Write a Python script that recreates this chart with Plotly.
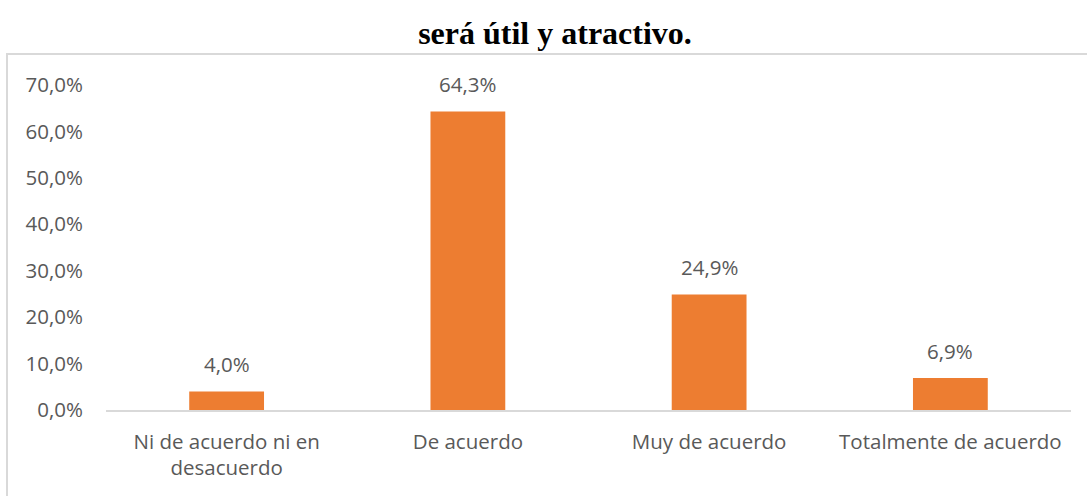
import plotly.graph_objects as go

categories = ["Ni de acuerdo ni en<br>desacuerdo", "De acuerdo", "Muy de acuerdo", "Totalmente de acuerdo"]
values = [0.040, 0.643, 0.249, 0.069]
title_text = "será útil y atractivo."

W, H = 1087, 496
L, R, T, B = 106, 16, 85, 86
pw, ph = W - L - R, H - T - B
FONT = "Open Sans"
FS = 20.5
GRAY = "#595959"

fig = go.Figure()
fig.add_trace(go.Bar(x=categories, y=values, marker=dict(color="#ED7D31", line=dict(width=0)),
                     hoverinfo="skip"))

for c, v in zip(categories, values):
    fig.add_annotation(x=c, y=v, text=f"{v*100:.1f}%".replace(".", ","), showarrow=False,
                       yanchor="bottom", yshift=11,
                       font=dict(family=FONT, size=FS, color=GRAY))

# open-ended frame: left and top edges only visible within the page
fig.add_shape(type="path", xref="paper", yref="paper",
              path=f"M {(7 - L) / pw} {(H - B - 560) / ph} L {(7 - L) / pw} {(H - B - 54) / ph} L {(1200 - L) / pw} {(H - B - 54) / ph}",
              line=dict(color="#D9D9D9", width=2), layer="below")

fig.update_layout(
    width=W, height=H,
    margin=dict(l=L, r=R, t=T, b=B),
    paper_bgcolor="white", plot_bgcolor="white",
    separators=",.",
    bargap=0.69,
    showlegend=False,
    hovermode=False,
    title=dict(text=f"<b>{title_text}</b>", x=555 / W, xanchor="center", xref="container",
               y=1 - 33 / H, yanchor="middle", yref="container",
               font=dict(family="Liberation Serif", size=32, color="black")),
    xaxis=dict(showline=True, linecolor="#D9D9D9", linewidth=2, ticks="", showgrid=False,
               tickfont=dict(family=FONT, size=FS, color=GRAY),
               ticklabelstandoff=12, fixedrange=True),
    yaxis=dict(range=[0, 0.7], dtick=0.1, tickformat=".1%", showgrid=False, zeroline=False,
               showline=False, ticks="",
               tickfont=dict(family=FONT, size=FS, color=GRAY),
               ticklabelstandoff=22, fixedrange=True),
)

fig.write_html("out.html", config={"displayModeBar": False, "staticPlot": True},
               post_script="document.body.style.margin='0px';document.body.style.overflow='hidden';")
